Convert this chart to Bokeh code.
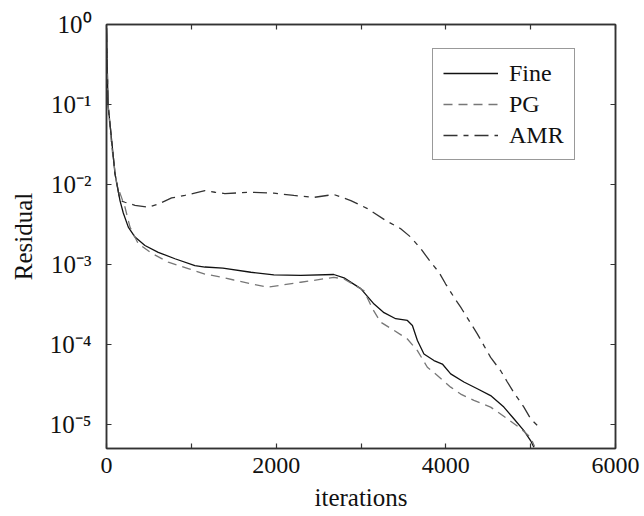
from bokeh.plotting import figure
from bokeh.models import (Range1d, FixedTicker, LinearAxis, LogAxis, Legend, LegendItem)
from bokeh.embed import file_html
from bokeh.resources import INLINE

# ---- data ----
fine_x = [0, 18, 61, 100, 159, 198, 257, 336, 453, 610, 807, 1042, 1160, 1372, 1702, 1973,
          2290, 2679, 2800, 2997, 3154, 3271, 3409, 3547, 3606, 3665, 3742, 3860, 3959, 4057,
          4213, 4371, 4528, 4684, 4802, 4920, 4999, 5038]
fine_y = [0.9, 0.1, 0.0355, 0.0137, 0.0063, 0.0044, 0.00293, 0.0022, 0.00173, 0.00142,
          0.00118, 0.00097, 0.00093, 0.0009, 0.0008, 0.00074, 0.00073, 0.00075, 0.00068,
          0.0005, 0.00032, 0.00025, 0.00021, 0.0002, 0.000173, 0.000112, 7.6e-5, 6.3e-5,
          5.7e-5, 4.3e-5, 3.4e-5, 2.8e-5, 2.3e-5, 1.65e-5, 1.18e-5, 8.4e-6, 6.3e-6, 5.2e-6]

pg_x = [0, 18, 61, 120, 218, 277, 374, 532, 728, 963, 1160, 1372, 1501, 1898, 2290, 2679,
        2800, 3036, 3135, 3232, 3389, 3547, 3665, 3782, 3900, 4057, 4175, 4331, 4528, 4725,
        4881, 4999, 5046]
pg_y = [0.9, 0.1, 0.03, 0.0102, 0.0052, 0.00293, 0.00182, 0.00138, 0.00107, 0.00089,
        0.00076, 0.00069, 0.00064, 0.00052, 0.0006, 0.00069, 0.00066, 0.00047, 0.00028,
        0.00019, 0.00015, 0.000117, 8.4e-5, 5.2e-5, 4.1e-5, 2.93e-5, 2.4e-5, 2.0e-5,
        1.65e-5, 1.18e-5, 8.9e-6, 6.9e-6, 5.3e-6]

amr_x = [0, 18, 61, 100, 159, 218, 336, 492, 610, 768, 924, 1160, 1278, 1395, 1702, 1973,
         2208, 2443, 2679, 2880, 3076, 3291, 3468, 3586, 3704, 3821, 3919, 3998, 4096, 4175,
         4272, 4371, 4449, 4528, 4646, 4725, 4802, 4920, 4999, 5117]
amr_y = [0.9, 0.1, 0.0355, 0.0137, 0.0063, 0.006, 0.0055, 0.0052, 0.0057, 0.0068, 0.0073,
         0.0084, 0.008, 0.0077, 0.008, 0.0078, 0.0073, 0.0069, 0.0075, 0.0063, 0.005,
         0.00355, 0.0028, 0.0022, 0.00158, 0.00107, 0.0008, 0.00057, 0.00039, 0.000293,
         0.0002, 0.000136, 9.7e-5, 6.9e-5, 4.7e-5, 3.4e-5, 2.5e-5, 1.65e-5, 1.18e-5, 8.9e-6]

x_ticks = [0, 1000, 2000, 3000, 4000, 5000, 6000]
x_labels = ["0", "", "2000", "", "4000", "", "6000"]
y_ticks = [1e0, 1e-1, 1e-2, 1e-3, 1e-4, 1e-5]
y_labels = ["10\u2070", "10\u207b\u00b9", "10\u207b\u00b2", "10\u207b\u00b3", "10\u207b\u2074", "10\u207b\u2075"]

FONT = "Liberation Serif"
AX = "#333333"

p = figure(width=644, height=516, output_backend="svg", toolbar_location=None,
           y_axis_type="log",
           x_range=Range1d(0, 6000), y_range=Range1d(10 ** -5.3, 1.0),
           min_border_left=106, min_border_right=29, min_border_top=24, min_border_bottom=68)
p.background_fill_color = "white"
p.border_fill_color = "white"
p.outline_line_color = AX
p.outline_line_width = 1.5
p.xgrid.visible = False
p.ygrid.visible = False

r_fine = p.line(fine_x, fine_y, line_color="#111111", line_width=1.3)
r_pg = p.line(pg_x, pg_y, line_color="#777777", line_width=1.3, line_dash="9 6")
r_amr = p.line(amr_x, amr_y, line_color="#333333", line_width=1.3, line_dash="14 6 5 6")

xt = FixedTicker(ticks=x_ticks)
yt = FixedTicker(ticks=y_ticks)

def style(ax, labels=True):
    ax.axis_line_color = AX
    ax.axis_line_width = 1.5
    ax.major_tick_line_color = AX
    ax.major_tick_line_width = 1.2
    ax.major_tick_in = 5
    ax.major_tick_out = 0
    ax.minor_tick_in = 0
    ax.minor_tick_out = 0
    ax.major_label_text_font = FONT
    ax.major_label_text_color = "#111111"
    ax.axis_label_text_font = FONT
    ax.axis_label_text_font_style = "normal"
    ax.axis_label_text_color = "#111111"
    if not labels:
        ax.major_label_text_font_size = "0px"
        ax.major_label_standoff = 0

xa = p.xaxis[0]
xa.ticker = xt
xa.major_label_overrides = {t: l for t, l in zip(x_ticks, x_labels)}
style(xa)
xa.major_label_text_font_size = "24px"
xa.major_label_standoff = 9
xa.axis_label = "iterations"
xa.axis_label_text_font_size = "25px"
xa.axis_label_standoff = 8

ya = p.yaxis[0]
ya.ticker = yt
ya.major_label_overrides = {t: l for t, l in zip(y_ticks, y_labels)}
style(ya)
ya.major_label_text_font_size = "25px"
ya.major_label_standoff = 15
ya.axis_label = "Residual"
ya.axis_label_text_font_size = "25px"
ya.axis_label_standoff = 10

top = LinearAxis(ticker=FixedTicker(ticks=x_ticks),
                 major_label_overrides={t: "" for t in x_ticks})
style(top, labels=False)
p.add_layout(top, "above")

right = LogAxis(ticker=FixedTicker(ticks=y_ticks),
                major_label_overrides={t: "" for t in y_ticks})
style(right, labels=False)
p.add_layout(right, "right")

legend = Legend(items=[LegendItem(label="Fine", renderers=[r_fine]),
                       LegendItem(label="PG", renderers=[r_pg]),
                       LegendItem(label="AMR", renderers=[r_amr])],
                location=(326, 288))
legend.label_text_font = FONT
legend.label_text_font_size = "24px"
legend.label_text_color = "#111111"
legend.border_line_color = AX
legend.border_line_width = 1.5
legend.background_fill_color = "white"
legend.background_fill_alpha = 1.0
legend.glyph_width = 55
legend.glyph_height = 28
legend.label_height = 28
legend.label_standoff = 11
legend.spacing = 3
legend.padding = 10
legend.margin = 0
p.add_layout(legend, "center")

open("out.html", "w").write(file_html(p, INLINE))
